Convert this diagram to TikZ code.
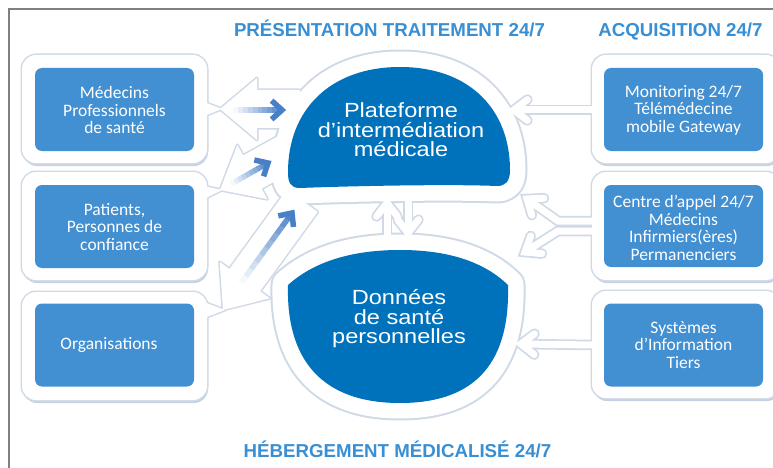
\documentclass[tikz,border=0pt]{standalone}
\usepackage{fontspec}
\setmainfont{Carlito}
\newfontfamily\helvb{Liberation Sans}
\newfontfamily\helvwide{Liberation Sans}[FakeStretch=1.15]
\usetikzlibrary{calc}
\definecolor{boxblue}{RGB}{66,143,210}
\definecolor{blobblue}{RGB}{0,114,188}
\definecolor{titleblue}{RGB}{57,143,212}
\definecolor{arrowblue}{RGB}{72,128,200}
\definecolor{halo}{RGB}{208,217,230}
\definecolor{shadowc}{RGB}{196,210,228}
\definecolor{framegray}{RGB}{128,128,128}
\tikzset{
  bluebox/.style={fill=boxblue, rounded corners=7pt, minimum width=159pt, minimum height=83pt, inner sep=0pt},
  boxtext/.style={text=white, align=center, font=\fontsize{17.5}{17.5}\selectfont, inner sep=0pt},
  blobtext/.style={text=white, align=center, font=\helvwide\fontsize{20.5}{19.5}\selectfont, inner sep=0pt},
  titletext/.style={text=titleblue, font=\helvb\bfseries\fontsize{18.7}{20}\selectfont, anchor=base, inner sep=0pt},
  topblobpath/.style={insert path={(300,188) .. controls (290,188) and (288,182) .. (288,172) .. controls (288,110) and (330,67) .. (400,67) .. controls (470,67) and (510,110) .. (510,170) .. controls (510,182) and (505,186) .. (497,186) .. controls (450,184) and (350,186) .. (300,188) -- cycle}},
  botblobpath/.style={insert path={(288,285) .. controls (318,258) and (360,250) .. (400,250) .. controls (440,250) and (480,258) .. (508,285) .. controls (510,360) and (478,403) .. (400,403) .. controls (322,403) and (286,360) .. (288,285) -- cycle}},
  ringhalo/.style={draw=halo, line width=35pt, line join=round},
  ringwhite/.style={draw=white, fill=white, line width=31pt, line join=round},
  chevhalo/.style={draw=halo, line width=10.5pt, line join=miter, line cap=round},
  chevwhite/.style={draw=white, line width=7pt, line join=miter, line cap=round},
  shapehalo/.style={draw=halo, line width=3pt, line join=round},
  shapewhite/.style={fill=white},
}
\newcommand\blockarr[4]{\begin{scope}[shift={(#1)},rotate=#2]\path[#4] (0,0) -- (37,-31) -- (37,-19) -- (#3,-19) -- (#3,19) -- (37,19) -- (37,31) -- cycle;\end{scope}}
\newcommand\outerboxes[1]{%
  \path[#1, rounded corners=14pt] (22,55) rectangle (207,163);
  \path[#1, rounded corners=14pt] (22,172) rectangle (207,280);
  \path[#1, rounded corners=14pt] (22,292) rectangle (207,400);
  \path[#1, rounded corners=14pt] (592,55) rectangle (780,163);
  \path[#1, rounded corners=14pt] (592,172) rectangle (780,280);
  \path[#1, rounded corners=14pt] (592,291) rectangle (780,398);
  \path[#1] (204,102) -- (222,109) -- (204,116) -- cycle;
  \path[#1] (204,186) -- (222,190) -- (204,199) -- cycle;
  \path[#1] (204,302) -- (225,310) -- (204,318) -- cycle;
}
\begin{document}
\begin{tikzpicture}[x=1pt,y=-1pt]
\useasboundingbox (0,0) rectangle (773,468);
\fill[white] (0,0) rectangle (773,468);
% named anchor points
\coordinate (la) at (220,109);
\coordinate (lb) at (220,190);
\coordinate (lc) at (223,310);
\coordinate (r1s) at (594,110); \coordinate (r1t) at (514,110);
\coordinate (r2s) at (594,221); \coordinate (r2m) at (558,221); \coordinate (r2t) at (527,199);
\coordinate (r2p) at (594,231); \coordinate (r2q) at (558,231); \coordinate (r2u) at (525,252);
\coordinate (r3s) at (594,345); \coordinate (r3t) at (521,344);
\coordinate (vus) at (387,237); \coordinate (vut) at (387,203);
\coordinate (vds) at (408,202); \coordinate (vdt) at (408,233);
\coordinate (b1s) at (233,110); \coordinate (b1t) at (282,110);
\coordinate (b2s) at (231,184); \coordinate (b2t) at (268,163);
\coordinate (b3s) at (241,283); \coordinate (b3t) at (292,213);
% shadows
\begin{scope}[shift={(1,3)}]
\fill[shadowc, rounded corners=14pt] (22,55) rectangle (207,163);
\fill[shadowc, rounded corners=14pt] (22,172) rectangle (207,280);
\fill[shadowc, rounded corners=14pt] (22,292) rectangle (207,400);
\fill[shadowc, rounded corners=14pt] (592,55) rectangle (780,163);
\fill[shadowc, rounded corners=14pt] (592,172) rectangle (780,280);
\fill[shadowc, rounded corners=14pt] (592,291) rectangle (780,398);
\end{scope}
% pass 1: halos
\outerboxes{shapehalo}
\path[ringhalo, topblobpath];
\path[ringhalo, botblobpath];
\blockarr{la}{0}{80}{shapehalo}
\blockarr{lb}{29}{80}{shapehalo}
\blockarr{lc}{54}{135}{shapehalo}
\foreach \s/\m/\t in {r1s/r1s/r1t, r2s/r2m/r2t, r2p/r2q/r2u, r3s/r3s/r3t, vus/vus/vut, vds/vds/vdt}{
  \draw[chevhalo] (\s) -- (\m) -- (\t);
  \draw[chevhalo] ($(\t)!17pt!38:(\m)$) -- (\t) -- ($(\t)!17pt!-38:(\m)$);
}
% pass 2: white bodies
\outerboxes{shapewhite}
\path[ringwhite, topblobpath];
\path[ringwhite, botblobpath];
\blockarr{la}{0}{80}{shapewhite}
\blockarr{lb}{29}{80}{shapewhite}
\blockarr{lc}{54}{135}{shapewhite}
\foreach \s/\m/\t in {r1s/r1s/r1t, r2s/r2m/r2t, r2p/r2q/r2u, r3s/r3s/r3t, vus/vus/vut, vds/vds/vdt}{
  \draw[chevwhite] (\s) -- (\m) -- (\t);
  \draw[chevwhite] ($(\t)!17pt!38:(\m)$) -- (\t) -- ($(\t)!17pt!-38:(\m)$);
}
% blue arrows with gradient
\foreach \a/\b in {b1s/b1t, b2s/b2t, b3s/b3t}{
  \foreach \i in {0,...,9}{
    \pgfmathsetmacro\shadeval{5+\i*10}
    \draw[arrowblue!\shadeval, line width=5.5pt] ($(\a)!\i/10!(\b)$) -- ($(\a)!\i/10+0.1!(\b)$);
  }
  \draw[arrowblue, line width=5.5pt, line join=miter] ($(\b)!14pt!42:(\a)$) -- (\b) -- ($(\b)!14pt!-42:(\a)$);
}
% blobs
\fill[blobblue, topblobpath];
\fill[blobblue, botblobpath];
\node[blobtext] (plat) at (401,130) {Plateforme\\d’intermédiation\\médicale};
\node[blobtext] (don) at (399,319) {Données\\de santé\\personnelles};
% blue boxes
\node[bluebox] (bmed) at (114.5,109.5) {};
\node[bluebox] (bpat) at (114.5,226.5) {};
\node[bluebox] (borg) at (114.5,345) {};
\node[bluebox] (bmon) at (683.5,109.5) {};
\node[bluebox, minimum height=82pt] (bcen) at (683.5,226) {};
\node[bluebox] (bsys) at (683.5,345) {};
\node[boxtext] (tmed) at (114.5,110) {Médecins\\Professionnels\\de santé};
\node[boxtext] (tpat) at (114.5,227) {Patients,\\Personnes de\\confiance};
\node[boxtext] (torg) at (109,345) {Organisations};
\node[boxtext] (tmon) at (683.5,110) {Monitoring 24/7\\Télémédecine\\mobile Gateway};
\node[boxtext] (tcen) at (683.5,228) {Centre d’appel 24/7\\Médecins\\Infirmiers(ères)\\Permanenciers};
\node[boxtext] (tsys) at (683.5,345) {Systèmes\\d’Information\\Tiers};
% titles
\node[titletext] (ti1) at (389.5,37) {PRÉSENTATION TRAITEMENT 24/7};
\node[titletext] (ti2) at (680.5,37) {ACQUISITION 24/7};
\node[titletext] (ti3) at (397.5,457) {HÉBERGEMENT MÉDICALISÉ 24/7};
% frame
\draw[framegray, line width=1.5pt] (9,468) -- (9,9) -- (773,9);
\end{tikzpicture}
\end{document}
